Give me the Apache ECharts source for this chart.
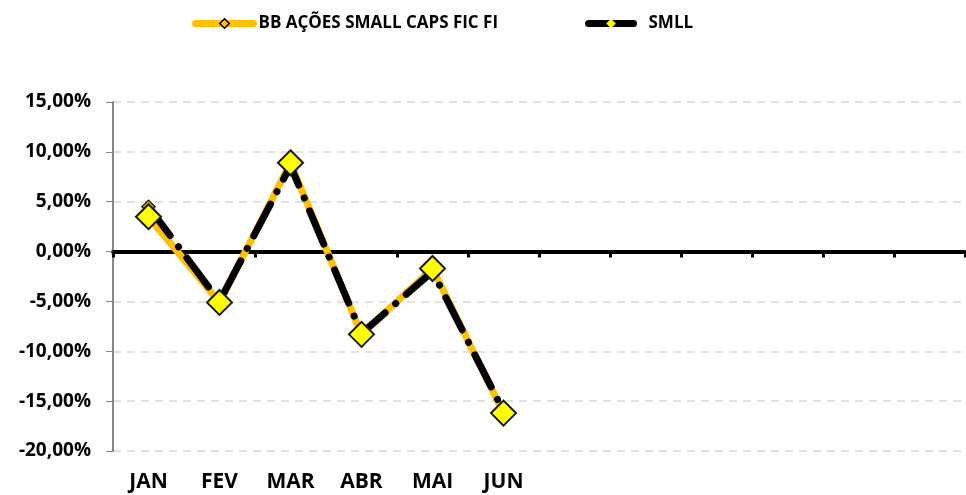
<!DOCTYPE html>
<html>
<head>
<meta charset="utf-8">
<script src="https://cdn.jsdelivr.net/npm/echarts@6/dist/echarts.min.js"></script>
<style>
html, body { margin: 0; padding: 0; background: #fff; }
#container { width: 966px; height: 495px; }
</style>
</head>
<body>
<div id="container"></div>
<script>
// meses (só os seis primeiros com rótulo)
var months = ['JAN', 'FEV', 'MAR', 'ABR', 'MAI', 'JUN', '', '', '', '', '', ''];
// rentabilidade mensal (%)
var fundValues = [3.5, -5.1, 8.9, -8.3, -1.7, -16.2];
var smllValues = [4.5, -5.0, 8.6, -8.2, -2.0, -16.0];
var fundName = 'BB AÇÕES SMALL CAPS FIC FI';
var smllName = 'SMLL';
var yTicks = { min: -20, max: 15, interval: 5 };

var myChart = echarts.init(document.getElementById('container'));
var font = '"Open Sans", sans-serif';

function pct(v) {
	return v.toFixed(2).replace('.', ',') + '%';
}

var legendText = { fontFamily: font, fontWeight: 'bold', fontSize: 17, color: '#000' };

var option = {
	animation: false,
	textStyle: { fontFamily: font },
	legend: [{
		left: 187,
		top: 10,
		itemWidth: 58,
		itemHeight: 12,
		data: [{
			name: fundName,
			lineStyle: { width: 7, type: 'solid', cap: 'round', color: '#ffc000' },
			itemStyle: { color: '#ffc000', borderColor: '#000', borderWidth: 1.5 }
		}],
		textStyle: legendText
	}, {
		left: 580,
		top: 10,
		itemWidth: 45,
		itemHeight: 12,
		data: [{
			name: smllName,
			lineStyle: { width: 7, type: 'solid', cap: 'round', color: '#000' },
			itemStyle: { color: '#ffff00', borderWidth: 0 }
		}],
		textStyle: Object.assign({ padding: [0, 0, 0, 10] }, legendText)
	}],
	grid: { left: 113, right: 1, top: 102, bottom: 44, containLabel: false },
	xAxis: [{
		type: 'category',
		data: months,
		boundaryGap: true,
		axisLine: { show: false, onZero: false },
		axisTick: { show: false },
		axisLabel: {
			interval: 0, margin: 21, color: '#000',
			fontFamily: font, fontWeight: 'bold', fontSize: 21
		}
	}, {
		type: 'category',
		data: months,
		position: 'bottom',
		boundaryGap: true,
		axisLine: { onZero: true, lineStyle: { color: '#000', width: 4 } },
		axisTick: { show: true, length: 6, alignWithLabel: false, lineStyle: { color: '#000', width: 3 } },
		axisLabel: { show: false }
	}],
	yAxis: {
		type: 'value',
		min: yTicks.min,
		max: yTicks.max,
		interval: yTicks.interval,
		axisLine: { show: true, lineStyle: { color: '#868686', width: 2 } },
		axisTick: { show: true, length: 7, lineStyle: { color: '#868686', width: 1 } },
		axisLabel: {
			margin: 22, color: '#000',
			fontFamily: font, fontWeight: 'bold', fontSize: 19,
			formatter: pct
		},
		splitLine: { lineStyle: { color: '#d9d9d9', type: [8, 6], width: 1.5 } }
	},
	series: [{
		name: fundName,
		type: 'line',
		data: fundValues,
		z: 2,
		symbol: 'diamond',
		symbolSize: 10,
		itemStyle: { color: '#ffc000', borderColor: '#000', borderWidth: 1.5 },
		lineStyle: { color: '#ffc000', width: 7, cap: 'round' }
	}, {
		name: smllName,
		type: 'line',
		data: smllValues,
		z: 3,
		symbol: 'diamond',
		symbolSize: 13,
		itemStyle: { color: '#e8c000', borderColor: '#222', borderWidth: 1.5 },
		lineStyle: { color: '#000', width: 7, type: [36, 14, 0.1, 14], cap: 'round' }
	}, {
		name: fundName,
		type: 'line',
		data: fundValues,
		z: 4,
		symbol: 'diamond',
		symbolSize: 25,
		itemStyle: { color: '#ffff00', borderColor: '#1a1a1a', borderWidth: 2 },
		lineStyle: { width: 0, opacity: 0 },
		tooltip: { show: false }
	}]
};
myChart.setOption(option);
</script>
</body>
</html>
